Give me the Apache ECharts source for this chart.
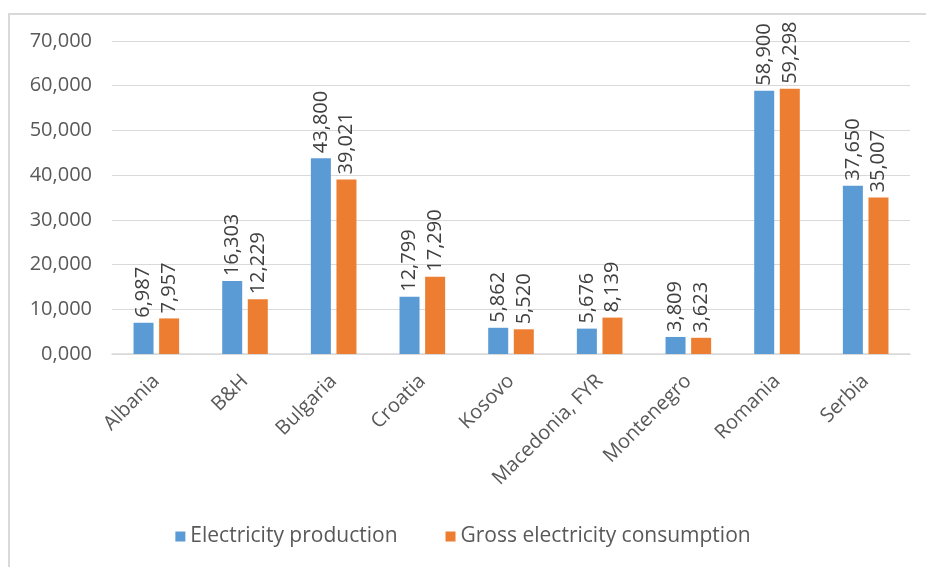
<!DOCTYPE html>
<html>
<head>
<meta charset="utf-8">
<script src="https://cdn.jsdelivr.net/npm/echarts@6/dist/echarts.min.js"></script>
<style>
  html, body { margin: 0; padding: 0; background: #fff; }
  #frame {
    position: absolute; left: 8px; top: 13px; width: 930px; height: 570px;
    border: 2px solid #d9d9d9; box-sizing: border-box;
  }
  #chart { position: absolute; left: 0; top: 0; width: 926px; height: 567px; }
</style>
</head>
<body>
<div id="frame"></div>
<div id="chart"></div>
<script>
// values in thousands (shown as "6,987" with a decimal comma)
var countries = ["Albania", "B&H", "Bulgaria", "Croatia", "Kosovo", "Macedonia, FYR", "Montenegro", "Romania", "Serbia"];
var production = [6.987, 16.303, 43.800, 12.799, 5.862, 5.676, 3.809, 58.900, 37.650];
var consumption = [7.957, 12.229, 39.021, 17.290, 5.520, 8.139, 3.623, 59.298, 35.007];
var seriesNames = ["Electricity production", "Gross electricity consumption"];

function fmt(v) {
  return v.toFixed(3).replace(".", ",");
}

var chart = echarts.init(document.getElementById("chart"));
var font = "'Open Sans', 'Noto Sans', sans-serif";

var barLabel = {
  show: true,
  position: "top",
  rotate: 90,
  align: "left",
  verticalAlign: "middle",
  distance: 5,
  color: "#404040",
  fontSize: 20,
  fontFamily: font,
  formatter: function (p) { return fmt(p.value); }
};

chart.setOption({
  animation: false,
  textStyle: { fontFamily: font },
  grid: { left: 112, right: 16, top: 41, bottom: 213 },
  legend: {
    bottom: 15,
    left: "center",
    itemWidth: 10,
    itemHeight: 10,
    itemGap: 48,
    icon: "rect",
    textStyle: { color: "#595959", fontSize: 21, fontFamily: font },
    data: seriesNames
  },
  xAxis: {
    type: "category",
    data: countries,
    axisLine: { lineStyle: { color: "#d9d9d9", width: 1.5 } },
    axisTick: { show: false },
    axisLabel: { rotate: 45, interval: 0, color: "#595959", fontSize: 20, margin: 24 }
  },
  yAxis: {
    type: "value",
    min: 0,
    max: 70,
    interval: 10,
    axisLine: { show: false },
    axisTick: { show: false },
    splitLine: { lineStyle: { color: "#d9d9d9", width: 1 } },
    axisLabel: { color: "#595959", fontSize: 20, margin: 20, formatter: fmt }
  },
  series: [
    {
      name: seriesNames[0],
      type: "bar",
      data: production,
      barWidth: 20,
      barGap: "28%",
      itemStyle: { color: "#5b9bd5" },
      label: barLabel
    },
    {
      name: seriesNames[1],
      type: "bar",
      data: consumption,
      barWidth: 20,
      itemStyle: { color: "#ed7d31" },
      label: barLabel
    }
  ]
});
</script>
</body>
</html>
